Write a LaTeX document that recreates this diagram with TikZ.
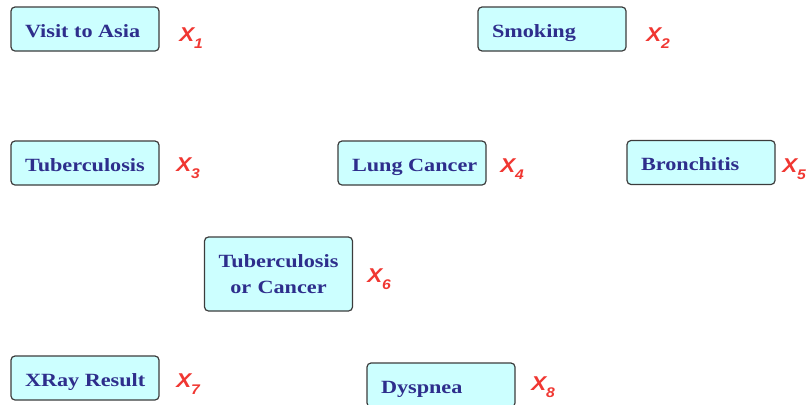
\documentclass[tikz,border=0pt]{standalone}
\usepackage{fontspec}
\newfontfamily\boxfont{Liberation Serif}[FakeStretch=1.19]
\newfontfamily\labfont{Liberation Sans}[FakeStretch=1.12]

\definecolor{boxfill}{RGB}{204,255,255}
\definecolor{boxline}{RGB}{60,60,60}
\definecolor{boxtext}{RGB}{46,46,140}
\definecolor{labred}{RGB}{240,55,50}

% variable name with its index as a lowered subscript
\newcommand\varlab[1]{X\raisebox{-5.6pt}{\fontsize{10.5}{11}\selectfont #1}}
% single-line box text, left aligned on one unbroken line
\newcommand\vname[1]{\makebox[90pt][l]{#1}}

\tikzset{
  varbase/.style={draw=boxline, line width=0.9pt, fill=boxfill,
    rounded corners=3pt, minimum width=111pt, inner xsep=10.5pt,
    inner ysep=0pt, text=boxtext,
    font=\boxfont\bfseries\fontsize{14}{19.5}\selectfont},
  var/.style={varbase, minimum height=33pt,
    text height=12.5pt, text depth=0pt},
  vartwo/.style={varbase, minimum height=55.5pt, text width=90pt,
    align=center},
  lab/.style={text=labred, inner sep=0pt, anchor=base west,
    font=\labfont\bfseries\itshape\fontsize{15}{18}\selectfont}
}

\begin{document}
\begin{tikzpicture}[x=0.75pt, y=-0.75pt]
  \useasboundingbox (0,0) rectangle (812,404);

  % variables
  \node[var]    (asia)   at (85,29)     {\vname{Visit to Asia}};
  \node[var]    (smoke)  at (552,29)    {\vname{Smoking}};
  \node[var]    (tub)    at (85,163)    {\vname{Tuberculosis}};
  \node[var]    (lung)   at (412,163)   {\vname{Lung Cancer}};
  \node[var]    (bronc)  at (701,162.5) {\vname{Bronchitis}};
  \node[vartwo] (either) at (278.5,274) {Tuberculosis\\or Cancer};
  \node[var]    (xray)   at (85,378)    {\vname{XRay Result}};
  \node[var]    (dysp)   at (441,385)   {\vname{Dyspnea}};

  % variable labels
  \node[lab] (l1) at (179,41)  {\varlab{1}};
  \node[lab] (l2) at (646,41)  {\varlab{2}};
  \node[lab] (l3) at (176,171) {\varlab{3}};
  \node[lab] (l4) at (500,172) {\varlab{4}};
  \node[lab] (l5) at (782,172) {\varlab{5}};
  \node[lab] (l6) at (367,282) {\varlab{6}};
  \node[lab] (l7) at (176,387) {\varlab{7}};
  \node[lab] (l8) at (531,390) {\varlab{8}};
\end{tikzpicture}
\end{document}
